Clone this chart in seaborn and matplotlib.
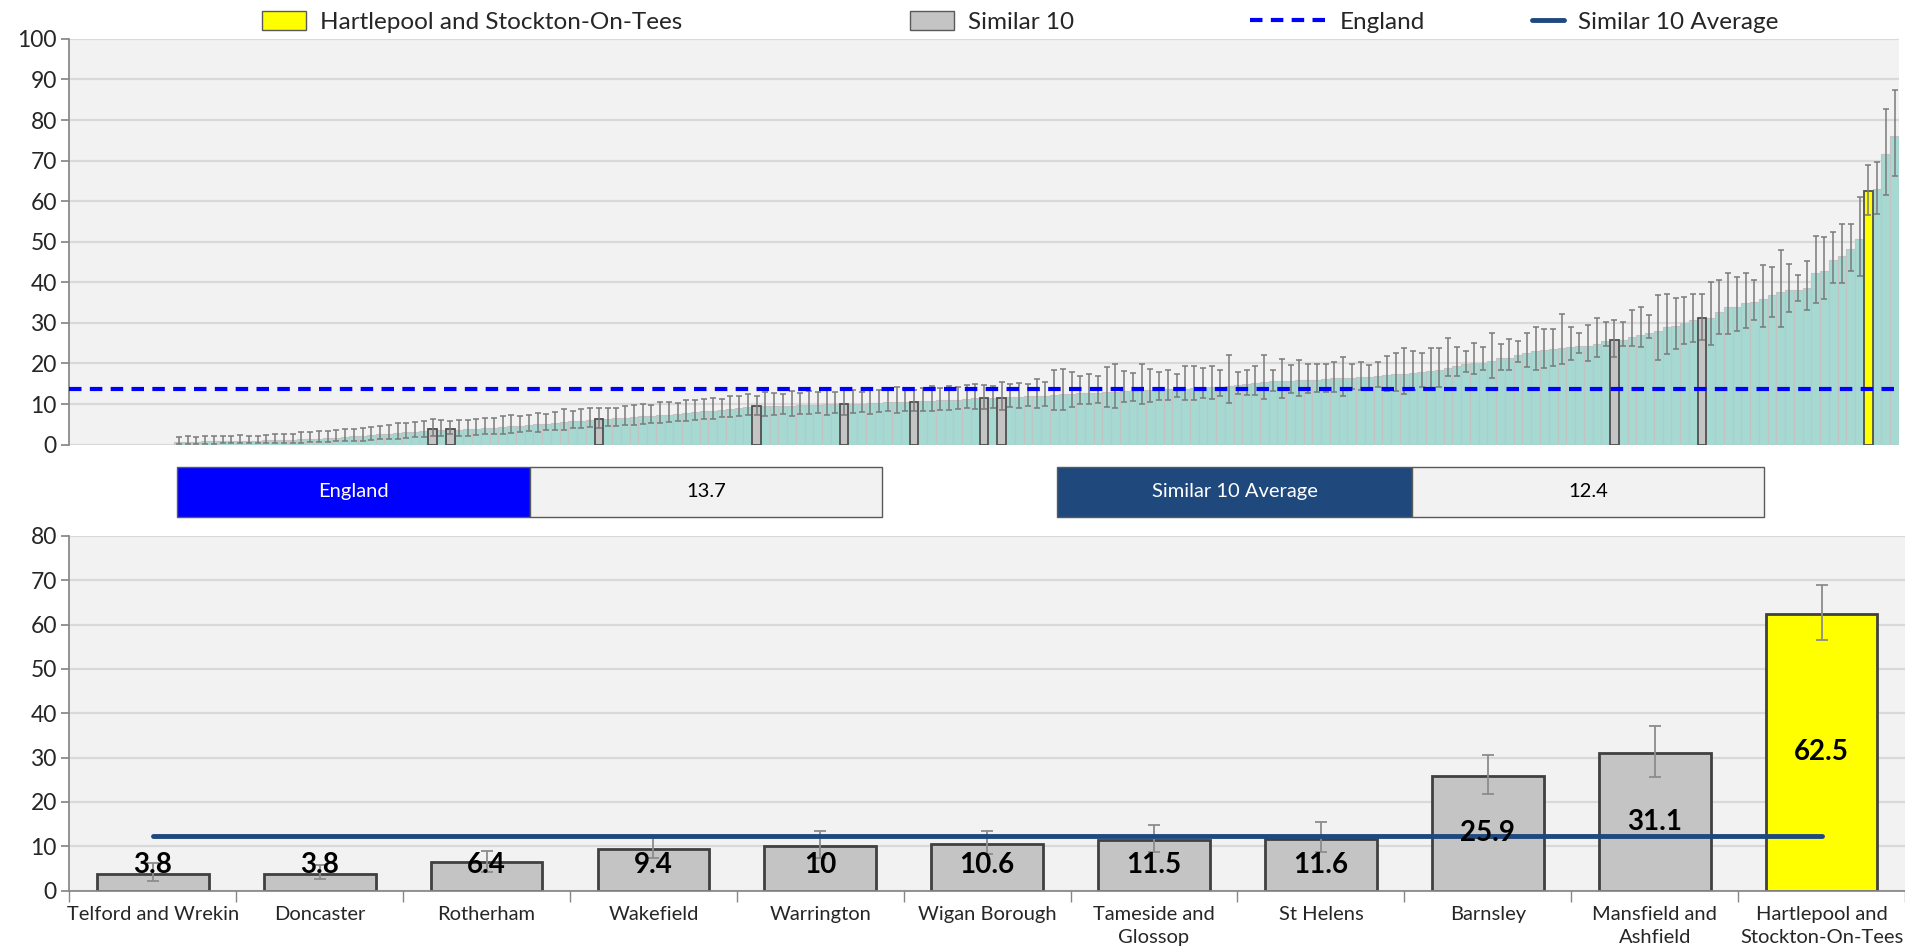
import numpy as np
import pandas as pd
import matplotlib
matplotlib.use('Agg')
import matplotlib.pyplot as plt
import seaborn as sns
from matplotlib.patches import Patch, Rectangle
from matplotlib.lines import Line2D

sns.set_theme(style='white')
plt.rcParams['font.family'] = ['Lato', 'DejaVu Sans']

# all CCGs sorted by rate (first 12 have no published value)
rate = [
    None, None, None, None, None, None, None, None, None, None,
    None, None, 0.6, 0.7, 0.7, 0.8, 0.8, 0.9, 0.9, 1.0,
    1.0, 1.0, 1.1, 1.1, 1.2, 1.2, 1.3, 1.4, 1.5, 1.6,
    1.7, 1.8, 2.0, 2.1, 2.3, 2.5, 2.6, 2.8, 3.0, 3.2,
    3.4, 3.8, 3.6, 3.8, 3.7, 3.8, 3.9, 4.1, 4.2, 4.3,
    4.5, 4.6, 4.8, 5.0, 5.1, 5.3, 5.5, 5.7, 5.9, 6.1,
    6.4, 6.4, 6.5, 6.6, 6.8, 7.0, 7.1, 7.3, 7.4, 7.6,
    7.8, 8.0, 8.2, 8.4, 8.6, 8.8, 9.0, 9.2, 9.4, 9.4,
    9.5, 9.6, 9.6, 9.7, 9.8, 9.8, 9.9, 10.0, 10.0, 10.1,
    10.1, 10.2, 10.3, 10.4, 10.5, 10.5, 10.6, 10.7, 10.8, 10.9,
    11.0, 11.1, 11.2, 11.4, 11.5, 11.5, 11.6, 11.7, 11.8, 11.9,
    12.1, 12.1, 12.2, 12.4, 12.5, 12.6, 12.7, 12.8, 12.9, 13.0,
    13.1, 13.2, 13.4, 13.4, 13.5, 13.6, 13.7, 13.8, 13.9, 14.0,
    14.2, 14.3, 14.5, 14.7, 14.9, 15.1, 15.4, 15.6, 15.7, 15.8,
    15.9, 16.0, 16.0, 16.1, 16.3, 16.3, 16.5, 16.6, 16.6, 17.0,
    17.1, 17.3, 17.4, 17.7, 17.9, 18.1, 18.5, 18.9, 19.3, 19.8,
    20.2, 20.2, 20.6, 21.4, 21.4, 22.0, 22.7, 23.1, 23.2, 23.5,
    23.9, 24.0, 24.2, 24.4, 24.9, 25.5, 25.9, 25.9, 26.6, 27.0,
    27.4, 27.9, 28.9, 29.3, 29.9, 30.7, 31.1, 31.3, 32.6, 33.9,
    34.0, 35.0, 35.2, 35.9, 36.9, 37.5, 38.0, 38.2, 38.6, 42.4,
    42.7, 45.6, 46.6, 48.1, 50.6, 62.5, 63.0, 71.6, 76.1,
]
rate_lo = [
    None, None, None, None, None, None, None, None, None, None,
    None, None, 0.1, 0.2, 0.2, 0.2, 0.2, 0.3, 0.3, 0.3,
    0.3, 0.4, 0.4, 0.4, 0.5, 0.5, 0.5, 0.6, 0.6, 0.7,
    0.8, 0.8, 1.0, 1.0, 1.2, 1.3, 1.4, 1.5, 1.6, 1.8,
    1.9, 2.2, 2.0, 2.6, 2.1, 2.2, 2.4, 2.5, 2.6, 2.7,
    2.9, 3.0, 3.3, 3.2, 3.5, 3.7, 3.6, 4.0, 4.1, 4.3,
    4.1, 4.5, 4.6, 4.8, 4.9, 5.1, 5.3, 5.4, 5.5, 5.8,
    5.9, 6.1, 6.3, 6.4, 6.7, 6.9, 7.0, 7.2, 7.3, 7.0,
    7.3, 7.5, 7.1, 7.6, 7.5, 7.7, 7.4, 7.9, 7.3, 7.8,
    8.0, 7.6, 8.1, 8.2, 7.9, 8.3, 8.3, 8.4, 8.2, 8.6,
    8.5, 8.7, 8.9, 8.8, 8.8, 9.1, 8.6, 9.2, 9.0, 9.5,
    9.0, 9.6, 8.6, 8.5, 9.2, 10.1, 9.9, 10.3, 9.3, 9.0,
    10.5, 10.7, 9.9, 10.6, 11.0, 11.1, 11.8, 10.9, 11.1, 11.4,
    11.3, 12.0, 10.2, 12.5, 12.3, 12.2, 11.2, 13.2, 11.6, 12.7,
    12.0, 12.8, 12.9, 13.0, 12.9, 12.1, 13.7, 13.5, 14.0, 14.2,
    13.3, 13.2, 12.5, 13.5, 14.1, 13.6, 14.3, 16.9, 16.9, 17.9,
    17.3, 18.5, 16.3, 18.5, 18.5, 20.4, 19.1, 18.4, 18.8, 19.3,
    19.8, 20.8, 22.5, 20.6, 21.7, 24.4, 21.7, 24.3, 24.2, 24.0,
    26.4, 20.8, 22.4, 23.5, 24.7, 25.4, 25.7, 24.5, 27.2, 27.2,
    28.0, 28.7, 30.6, 29.0, 31.5, 29.0, 32.7, 35.3, 33.2, 34.8,
    35.8, 39.8, 39.8, 42.7, 41.6, 56.5, 56.9, 61.6, 66.2,
]
rate_hi = [
    None, None, None, None, None, None, None, None, None, None,
    None, None, 1.9, 2.0, 1.8, 2.1, 2.0, 2.1, 2.2, 2.3,
    2.1, 2.2, 2.4, 2.6, 2.5, 2.7, 3.0, 3.1, 3.4, 3.3,
    3.5, 3.8, 3.8, 4.2, 4.3, 4.6, 4.9, 5.3, 5.4, 5.6,
    5.9, 6.2, 6.0, 5.7, 6.0, 6.1, 6.3, 6.6, 6.5, 7.0,
    7.2, 7.1, 7.4, 7.9, 7.6, 8.1, 8.7, 8.3, 8.8, 9.0,
    8.9, 9.1, 9.0, 9.4, 9.7, 9.9, 9.7, 10.4, 10.5, 10.2,
    10.9, 11.1, 11.2, 11.6, 11.3, 11.9, 12.1, 12.4, 12.1, 12.9,
    12.6, 12.4, 13.3, 12.8, 13.2, 12.9, 13.7, 13.0, 13.5, 13.4,
    12.9, 13.9, 13.5, 13.7, 14.1, 13.6, 13.5, 13.9, 14.4, 14.0,
    14.5, 14.3, 14.6, 15.0, 14.8, 14.4, 15.5, 14.9, 15.3, 15.0,
    16.1, 15.4, 18.3, 18.6, 17.9, 16.8, 17.4, 17.0, 19.1, 19.8,
    18.2, 17.6, 19.8, 18.7, 18.0, 18.4, 17.5, 19.3, 19.3, 19.0,
    19.4, 18.5, 22.0, 17.9, 18.5, 19.3, 22.0, 18.3, 21.0, 19.6,
    20.8, 19.8, 19.8, 19.9, 20.4, 21.7, 19.8, 20.3, 19.7, 20.3,
    21.8, 22.5, 23.9, 23.1, 22.6, 23.9, 23.9, 26.2, 24.1, 23.1,
    25.1, 24.0, 27.6, 24.7, 26.1, 25.5, 27.6, 29.0, 28.4, 28.6,
    32.1, 29.0, 27.6, 29.4, 31.3, 30.1, 30.6, 30.1, 33.1, 33.9,
    31.9, 36.8, 37.1, 36.2, 36.4, 37.2, 37.1, 40.0, 40.5, 42.3,
    41.4, 42.4, 40.5, 44.2, 43.7, 48.0, 44.5, 41.8, 45.3, 51.3,
    51.1, 52.3, 54.4, 54.4, 61.1, 69.0, 69.6, 82.8, 87.5,
]

home = 'Hartlepool and Stockton-On-Tees'
home_idx = 205
similar_areas = ['Telford and Wrekin', 'Doncaster', 'Rotherham', 'Wakefield', 'Warrington',
                 'Wigan Borough', 'Tameside and\nGlossop', 'St Helens', 'Barnsley',
                 'Mansfield and\nAshfield']
similar_idx = [41, 43, 60, 78, 88, 96, 104, 106, 176, 186]
england = 13.7
similar_avg = 12.4

teal = '#A7D9D3'
grey = '#C4C4C4'
yellow = '#FFFF00'
navy = '#1F497D'
blue = '#0000FF'

top = pd.DataFrame({'pos': range(len(rate)), 'rate': rate, 'lo': rate_lo, 'hi': rate_hi})
top['group'] = 'All'
top.loc[similar_idx, 'group'] = 'Similar 10'
top.loc[home_idx, 'group'] = home
order = list(top['pos'])

fig = plt.figure(figsize=(19.05, 9.49), dpi=100)
ax1 = fig.add_axes([0.0364, 0.5315, 0.9604, 0.4275])
ax2 = fig.add_axes([0.0364, 0.0616, 0.9636, 0.3736])

# ---- top chart: every CCG
for grp, col, ec, lw in [('All', teal, '#C3C3C3', 0.8),
                         ('Similar 10', grey, '#505050', 1.3),
                         (home, yellow, '#505050', 1.3)]:
    sub = top[(top['group'] == grp) & top['rate'].notna()]
    sns.barplot(data=sub, x='pos', y='rate', order=order, color=col, width=1.0,
                saturation=1, edgecolor=ec, linewidth=lw, errorbar=None, ax=ax1, zorder=2)

ok = top['rate'].notna()
ax1.errorbar(top['pos'][ok], top['rate'][ok],
             yerr=[top['rate'][ok] - top['lo'][ok], top['hi'][ok] - top['rate'][ok]],
             fmt='none', ecolor='#7A7A7A', elinewidth=1.1, capsize=2.5, capthick=1.1, zorder=3)
ax1.axhline(england, color=blue, lw=3, ls=(0, (3, 2)), zorder=4)

ax1.set_xlim(-0.5, len(rate) - 0.5)
ax1.set_ylim(0, 100)
ax1.set_yticks(range(0, 101, 10))
ax1.set_xticks([])
ax1.set_xlabel('')
ax1.set_ylabel('')

# ---- bottom chart: similar 10 + home
bars = pd.DataFrame({
    'area': similar_areas + ['Hartlepool and\nStockton-On-Tees'],
    'value': [rate[i] for i in similar_idx + [home_idx]],
    'lo': [rate_lo[i] for i in similar_idx + [home_idx]],
    'hi': [rate_hi[i] for i in similar_idx + [home_idx]],
})
sns.barplot(data=bars, x='area', y='value', hue='area',
            palette=[grey] * len(similar_areas) + [yellow], legend=False,
            width=0.67, saturation=1, edgecolor='#404040', linewidth=2,
            errorbar=None, ax=ax2, zorder=2)
xs = np.arange(len(bars))
ax2.errorbar(xs, bars['value'], yerr=[bars['value'] - bars['lo'], bars['hi'] - bars['value']],
             fmt='none', ecolor='#8C8C8C', elinewidth=1.3, capsize=4, capthick=1.3, zorder=3)
ax2.plot([xs[0], xs[-1]], [similar_avg, similar_avg], color=navy, lw=3.5, zorder=4)
for x, v in zip(xs, bars['value']):
    ax2.text(x, max(v / 2, 5.8), f'{v:g}', ha='center', va='center',
             fontsize=20, fontweight='bold', color='black', zorder=5)

ax2.set_xlim(-0.5, len(bars) - 0.5)
ax2.set_ylim(0, 80)
ax2.set_yticks(range(0, 81, 10))
ax2.set_xticks(np.arange(-0.5, len(bars), 1), minor=True)
ax2.set_xlabel('')
ax2.set_ylabel('')

for ax in (ax1, ax2):
    ax.set_facecolor('#F2F2F2')
    ax.set_axisbelow(True)
    ax.grid(axis='y', color='#D9D9D9', lw=1.6)
    for s in ('top', 'right'):
        ax.spines[s].set_visible(False)
    ax.spines['left'].set_color('#868686')
    ax.tick_params(axis='y', length=6, color='#868686', labelsize=16.5, pad=3, left=True)
ax1.spines['bottom'].set_visible(False)
ax2.spines['bottom'].set_color('#868686')
ax2.tick_params(axis='x', which='major', length=0, labelsize=14.5, pad=11)
ax2.tick_params(axis='x', which='minor', length=8, color='#868686', bottom=True)
for lab in ax2.get_xticklabels():
    lab.set_linespacing(1.45)

# ---- value boxes
def value_box(x0, xm, x1, label, value, col):
    y0, h = 0.4557, 0.0526
    fig.add_artist(Rectangle((x0, y0), xm - x0, h, transform=fig.transFigure,
                             facecolor=col, edgecolor='#595959', lw=1))
    fig.add_artist(Rectangle((xm, y0), x1 - xm, h, transform=fig.transFigure,
                             facecolor='#F2F2F2', edgecolor='#595959', lw=1))
    fig.text((x0 + xm) / 2, y0 + h / 2, label, color='white', fontsize=14.5, ha='center', va='center')
    fig.text((xm + x1) / 2, y0 + h / 2, f'{value}', color='black', fontsize=14.5, ha='center', va='center')

value_box(0.0927, 0.278, 0.463, 'England', england, blue)
value_box(0.555, 0.741, 0.926, 'Similar 10 Average', similar_avg, navy)

# ---- legend along the top
entries = [
    (Patch(facecolor=yellow, edgecolor='#595959'), home, 0.1375, 1.8),
    (Patch(facecolor=grey, edgecolor='#595959'), 'Similar 10', 0.4776, 1.8),
    (Line2D([], [], color=blue, lw=3, ls=(0, (3, 2))), 'England', 0.656, 3.1),
    (Line2D([], [], color=navy, lw=3.5), 'Similar 10 Average', 0.8043, 1.3),
]
for h, lab, x, hl in entries:
    fig.legend([h], [lab], loc='center left', bbox_to_anchor=(x, 0.977), frameon=False,
               fontsize=17.5, handlelength=hl, handleheight=0.8, handletextpad=0.6,
               borderpad=0, borderaxespad=0)

fig.savefig('out.png', dpi=100)
